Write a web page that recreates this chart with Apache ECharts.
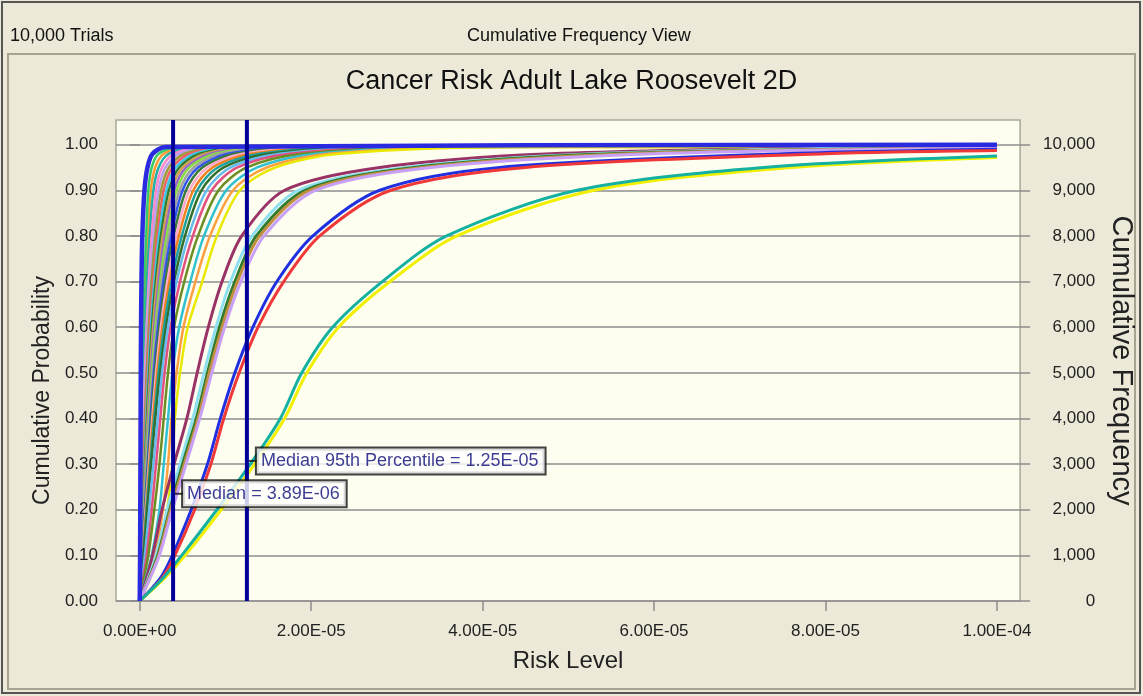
<!DOCTYPE html>
<html>
<head>
<meta charset="utf-8">
<title>Cancer Risk Adult Lake Roosevelt 2D</title>
<script src="https://cdn.jsdelivr.net/npm/echarts@6/dist/echarts.min.js"></script>
<style>
    html, body { margin: 0; padding: 0; background: #ECE9D8; }
    #cumulative-chart-container { width: 1143px; height: 696px; }
</style>
</head>
<body>
<div id="cumulative-chart-container"></div>
<script>
// probability levels at which each curve's risk values were read (risk in units of 1e-6)
var P_LEVELS = [0, 0.05, 0.1, 0.2, 0.3, 0.4, 0.5, 0.6, 0.7, 0.8, 0.9, 0.95, 0.98, 0.995];
var UNIT = 1e-6;
var X_END = 100; // every curve stops at 1.00E-04
var Y_TOP = 1.054; // probability at the top edge of the plot

// dense bundle of steep curves, left to right
var BUNDLE_QUANTILES = [
    [0, 0.03, 0.06, 0.12, 0.2, 0.3, 0.4, 0.5, 0.7, 0.95, 1.3, 1.8, 2.8, 5.5],
    [0, 0.02, 0.05, 0.1, 0.15, 0.2, 0.3, 0.4, 0.55, 0.75, 1.0, 1.4, 2.2, 4.5],
    [0, 0.03, 0.06, 0.14, 0.25, 0.35, 0.5, 0.65, 0.85, 1.15, 1.6, 2.2, 3.4, 6.5],
    [0, 0.04, 0.08, 0.18, 0.3, 0.45, 0.6, 0.8, 1.05, 1.4, 1.9, 2.6, 4.0, 7.5],
    [0, 0.05, 0.1, 0.22, 0.36, 0.52, 0.7, 0.92, 1.2, 1.6, 2.2, 3.0, 4.6, 8.5],
    [0, 0.05, 0.12, 0.26, 0.42, 0.6, 0.8, 1.05, 1.38, 1.82, 2.5, 3.4, 5.2, 9.5],
    [0, 0.06, 0.14, 0.3, 0.48, 0.68, 0.9, 1.18, 1.55, 2.05, 2.8, 3.8, 5.8, 10.5],
    [0, 0.07, 0.16, 0.34, 0.54, 0.76, 1.0, 1.3, 1.7, 2.25, 3.1, 4.2, 6.4, 11.5],
    [0, 0.08, 0.18, 0.38, 0.6, 0.84, 1.1, 1.42, 1.86, 2.46, 3.4, 4.6, 7.0, 12.5],
    [0, 0.09, 0.2, 0.42, 0.66, 0.92, 1.2, 1.55, 2.02, 2.68, 3.7, 5.0, 7.6, 13.5],
    [0, 0.1, 0.22, 0.46, 0.72, 1.0, 1.3, 1.68, 2.2, 2.9, 4.0, 5.4, 8.2, 14.5],
    [0, 0.11, 0.24, 0.5, 0.78, 1.08, 1.4, 1.82, 2.38, 3.14, 4.3, 5.8, 8.8, 16],
    [0, 0.12, 0.26, 0.54, 0.85, 1.17, 1.52, 1.97, 2.57, 3.4, 4.65, 6.3, 9.5, 17],
    [0, 0.13, 0.28, 0.58, 0.92, 1.26, 1.64, 2.12, 2.77, 3.66, 5.0, 6.8, 10.3, 18.5],
    [0, 0.15, 0.31, 0.63, 0.99, 1.36, 1.77, 2.29, 2.99, 3.95, 5.4, 7.3, 11.1, 20],
    [0, 0.16, 0.34, 0.68, 1.06, 1.46, 1.9, 2.46, 3.21, 4.24, 5.8, 7.9, 12, 22],
    [0, 0.18, 0.37, 0.74, 1.14, 1.57, 2.04, 2.64, 3.45, 4.56, 6.25, 8.5, 13, 24],
    [0, 0.2, 0.41, 0.8, 1.23, 1.69, 2.2, 2.84, 3.71, 4.91, 6.7, 9.1, 14, 26],
    [0, 0.22, 0.45, 0.87, 1.33, 1.82, 2.37, 3.06, 4.0, 5.28, 7.2, 9.8, 15, 28],
    [0, 0.3, 0.6, 1.1, 1.6, 2.1, 2.6, 3.3, 4.3, 5.7, 7.8, 10.6, 16.3, 30],
    [0, 0.4, 0.8, 1.4, 1.9, 2.4, 2.9, 3.6, 4.7, 6.2, 8.4, 11.4, 17.5, 32],
    [0, 0.5, 1.0, 1.7, 2.3, 2.8, 3.3, 4.0, 5.2, 6.8, 9.2, 12.5, 19, 35],
    [0, 0.7, 1.4, 2.3, 2.8, 3.3, 3.8, 4.6, 5.9, 7.5, 10.1, 13.7, 20.5, 38],
    [0, 0.9, 1.8, 2.7, 3.3, 3.7, 4.3, 5.1, 6.5, 8.2, 10.9, 14.8, 22, 41],
    [0, 1.2, 2.2, 3.2, 3.8, 4.1, 4.7, 5.6, 7.3, 9.0, 11.7, 15.8, 23.3, 44]
];
var BUNDLE_END = [1, 1, 1, 1, 1, 1, 1, 1, 0.999, 0.999, 0.999, 0.999, 0.999, 0.998, 0.998,
    0.998, 0.998, 0.997, 0.997, 0.997, 0.996, 0.996, 0.996, 0.995, 0.995];
var BUNDLE_COLORS = ['#FF9933', '#33CC66', '#20B0A8', '#FF88CC', '#B8A0F0', '#9C9C3C', '#F06060',
    '#40C8E8', '#2E7D32', '#D2A050', '#9966CC', '#88DD44', '#A0A0A0', '#3355EE', '#3A7A3A',
    '#FFAACC', '#F08020', '#1AA0A0', '#2F6F2F', '#66BBEE', '#E05080', '#6B8E23', '#30C0D0',
    '#FFA040', '#E8E800'];

// slower curves
var MAROON_Q = [0, 0.8, 1.5, 2.6, 4.0, 5.5, 6.7, 8.0, 9.6, 11.9, 16.9, 28, 48, 88];
var LIGHTCYAN_Q = [0, 1.0, 1.9, 3.2, 4.7, 6.2, 7.5, 8.9, 10.6, 13.1, 18.5, 31, 53, 92];
var GREEN_Q = [0, 1.1, 2.1, 3.5, 5.0, 6.6, 7.9, 9.3, 11.1, 13.6, 19.3, 32, 55];
var TAN_Q = [0, 1.15, 2.2, 3.6, 5.2, 6.8, 8.1, 9.6, 11.4, 14.0, 19.8, 33, 57];
var LAVENDER_Q = [0, 1.2, 2.3, 3.8, 5.4, 7.0, 8.4, 9.9, 11.8, 14.5, 20.5, 34, 60];
var BLUE_Q = [0, 2.4, 3.8, 6.0, 7.9, 9.4, 11.1, 13.2, 16.0, 20.2, 28.0, 42, 75];
var RED_Q = [0, 2.6, 4.1, 6.4, 8.3, 9.8, 11.6, 13.8, 16.8, 21.0, 29.3, 45, 80];
var YELLOW_Q = [0, 2.9, 5.3, 9.5, 13.4, 16.9, 19.5, 23.2, 29.2, 37.0, 53.0, 76];
var TEAL_Q = [0, 2.7, 4.9, 9.0, 12.9, 16.4, 18.9, 22.5, 28.3, 35.8, 51.0, 72.8];
var LEAD_Q = [0, 0.02, 0.04, 0.06, 0.08, 0.1, 0.12, 0.15, 0.2, 0.3, 0.55, 0.9, 1.5, 3.0];

var SLOW_CURVES = [MAROON_Q, LIGHTCYAN_Q, GREEN_Q, TAN_Q, LAVENDER_Q, BLUE_Q, RED_Q, YELLOW_Q, TEAL_Q, LEAD_Q];
var SLOW_END = [0.996, 0.996, 0.993, 0.993, 0.992, 0.99, 0.987, 0.972, 0.975, 1];
var SLOW_COLORS = ['#993366', '#8EE0F0', '#2E7A2E', '#C09040', '#C8A0F8', '#2030E0', '#F03838', '#F0F000', '#14B0A0', '#2A2AE0'];
var SLOW_WIDTHS = [3, 3, 3, 3, 3, 3, 3, 3, 3, 4.5];

// percentile markers
var MARKER_VALUES = [3.89e-6, 1.25e-5];
var MARKER_LABELS = ['Median = 3.89E-06', 'Median 95th Percentile = 1.25E-05'];

// axis ticks
var X_TICKS = [0, 2e-5, 4e-5, 6e-5, 8e-5, 1e-4];
var X_TICK_LABELS = ['0.00E+00', '2.00E-05', '4.00E-05', '6.00E-05', '8.00E-05', '1.00E-04'];
var Y_TICKS = [0, 0.1, 0.2, 0.3, 0.4, 0.5, 0.6, 0.7, 0.8, 0.9, 1.0];
var Y_TICK_LABELS = ['0.00', '0.10', '0.20', '0.30', '0.40', '0.50', '0.60', '0.70', '0.80', '0.90', '1.00'];
var FREQ_TICKS = [0, 1000, 2000, 3000, 4000, 5000, 6000, 7000, 8000, 9000, 10000];
var FREQ_TICK_LABELS = ['0', '1,000', '2,000', '3,000', '4,000', '5,000', '6,000', '7,000', '8,000', '9,000', '10,000'];

var FONT = '"Liberation Sans", Arial, sans-serif';

var EC_CumulativeFrequencyView = function () {

    var _lookup = function (ticks, labels, value, eps) {
        for (var k = 0; k < ticks.length; k++) {
            if (Math.abs(ticks[k] - value) < eps) {
                return labels[k];
            }
        }
        return '';
    };

    var _curveSeries = function (quantiles, endLevel, color, width) {
        var pts = [];
        for (var j = 0; j < quantiles.length; j++) {
            pts.push([quantiles[j] * UNIT, P_LEVELS[j]]);
        }
        pts.push([X_END * UNIT, endLevel]);
        return {
            type: 'line',
            data: pts,
            showSymbol: false,
            smooth: 0.3,
            lineStyle: { color: color, width: width },
            emphasis: { disabled: true },
            z: 2
        };
    };

    var _echartsCumulativeChart = function () {
        var dom = document.getElementById('cumulative-chart-container');
        var myChart = echarts.init(dom, null, {
            renderer: 'canvas',
            useDirtyRect: false
        });

        var series = [];
        for (var i = 0; i < BUNDLE_QUANTILES.length; i++) {
            series.push(_curveSeries(BUNDLE_QUANTILES[i], BUNDLE_END[i], BUNDLE_COLORS[i], 2.5));
        }
        for (var s = 0; s < SLOW_CURVES.length; s++) {
            series.push(_curveSeries(SLOW_CURVES[s], SLOW_END[s], SLOW_COLORS[s], SLOW_WIDTHS[s]));
        }

        // vertical percentile lines, bottom to top of the plot
        for (var m = 0; m < MARKER_VALUES.length; m++) {
            series.push({
                type: 'line',
                data: [[MARKER_VALUES[m], 0], [MARKER_VALUES[m], Y_TOP]],
                showSymbol: false,
                silent: true,
                lineStyle: { color: '#000099', width: 4 },
                emphasis: { disabled: true },
                z: 4
            });
        }

        // callout boxes
        var calloutLevels = [0.235, 0.307];
        series.push({
            type: 'scatter',
            z: 5,
            symbol: 'rect',
            symbolSize: [8, 2],
            symbolOffset: [6, 0],
            itemStyle: { color: '#111' },
            silent: true,
            data: MARKER_VALUES.map(function (v, k) {
                return { value: [v, calloutLevels[k]], name: MARKER_LABELS[k] };
            }),
            label: {
                show: true,
                position: 'right',
                distance: 0,
                formatter: '{b}',
                fontFamily: FONT,
                fontSize: 18,
                color: '#0A0A78',
                backgroundColor: '#FFFFFF',
                borderColor: '#111111',
                borderWidth: 2,
                padding: [4, 6, 3, 4]
            }
        });

        var option = {
            animation: false,
            backgroundColor: '#ECE9D8',
            textStyle: { fontFamily: FONT },
            title: [
                { text: '10,000 Trials', left: 5, top: 22, textStyle: { fontSize: 18, fontWeight: 'normal', color: '#111', fontFamily: FONT } },
                { text: 'Cumulative Frequency View', left: 462, top: 22, textStyle: { fontSize: 18, fontWeight: 'normal', color: '#111', fontFamily: FONT } },
                { text: 'Cancer Risk Adult Lake Roosevelt 2D', left: 'center', top: 63, textStyle: { fontSize: 27, fontWeight: 'normal', color: '#111', fontFamily: FONT } }
            ],
            graphic: [
                { type: 'rect', shape: { x: 2, y: 2, width: 1138, height: 691 }, style: { fill: 'none', stroke: '#555', lineWidth: 2 }, silent: true },
                { type: 'rect', shape: { x: 8, y: 54, width: 1127, height: 635 }, style: { fill: 'none', stroke: '#A7A391', lineWidth: 2 }, silent: true }
            ],
            grid: {
                left: 116,
                top: 120,
                width: 906,
                height: 481,
                show: true,
                backgroundColor: '#FEFEF0',
                borderColor: '#A9A89C',
                borderWidth: 1.5
            },
            xAxis: {
                type: 'value',
                min: -2.77e-6,
                max: 1.027e-4,
                name: 'Risk Level',
                nameLocation: 'middle',
                nameGap: 48,
                nameTextStyle: { fontSize: 24, color: '#222', fontFamily: FONT },
                axisLine: { show: false },
                axisTick: { show: true, length: 10, customValues: X_TICKS, lineStyle: { color: '#8C8C8C', width: 1.5 } },
                axisLabel: {
                    margin: 22,
                    fontSize: 17,
                    color: '#222',
                    customValues: X_TICKS,
                    formatter: function (v) { return _lookup(X_TICKS, X_TICK_LABELS, v, 1e-10); }
                },
                splitLine: { show: false }
            },
            yAxis: [
                {
                    type: 'value',
                    position: 'left',
                    min: 0,
                    max: Y_TOP,
                    interval: 0.1,
                    name: 'Cumulative Probability',
                    nameLocation: 'middle',
                    nameGap: 60,
                    nameTextStyle: { fontSize: 23, color: '#222', fontFamily: FONT, padding: [0, 60, 0, 0] },
                    axisLine: { show: false },
                    axisTick: { show: true, length: 10, customValues: Y_TICKS, lineStyle: { color: '#8C8C8C', width: 1.5 } },
                    axisLabel: {
                        margin: 18,
                        fontSize: 17,
                        color: '#222',
                        customValues: Y_TICKS,
                        formatter: function (v) { return _lookup(Y_TICKS, Y_TICK_LABELS, v, 1e-6); }
                    },
                    splitLine: { show: true, lineStyle: { color: '#8C8C8C', width: 1.5 } }
                },
                {
                    type: 'value',
                    position: 'right',
                    min: 0,
                    max: 10540,
                    interval: 1000,
                    name: 'Cumulative Frequency',
                    nameLocation: 'middle',
                    nameRotate: -90,
                    nameGap: 78,
                    nameTextStyle: { fontSize: 29, color: '#222', fontFamily: FONT },
                    axisLine: { show: false },
                    axisTick: { show: true, length: 10, customValues: FREQ_TICKS, lineStyle: { color: '#8C8C8C', width: 1.5 } },
                    axisLabel: {
                        margin: 75,
                        align: 'right',
                        fontSize: 17,
                        color: '#222',
                        customValues: FREQ_TICKS,
                        formatter: function (v) { return _lookup(FREQ_TICKS, FREQ_TICK_LABELS, v, 0.5); }
                    },
                    splitLine: { show: false }
                }
            ],
            series: series
        };

        if (option && typeof option === 'object') {
            myChart.setOption(option);
        }

        window.addEventListener('resize', function () {
            myChart.resize();
        });
    };

    return {
        init: function () {
            _echartsCumulativeChart();
        }
    };
}();

document.addEventListener('DOMContentLoaded', function () {
    EC_CumulativeFrequencyView.init();
});
</script>
</body>
</html>
